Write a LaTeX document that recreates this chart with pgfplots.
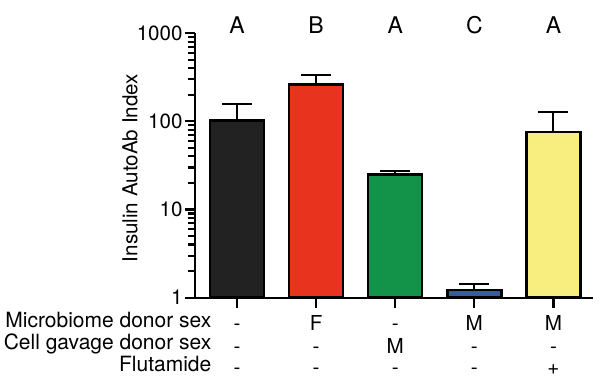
\documentclass[border=0pt]{standalone}
\usepackage{fontspec}
\setmainfont{TeX Gyre Heros}
\usepackage{pgfplots}
\pgfplotsset{compat=1.18}
\definecolor{cblack}{HTML}{222222}
\definecolor{cred}{HTML}{E8341F}
\definecolor{cgreen}{HTML}{13924A}
\definecolor{cblue}{HTML}{3A5BA0}
\definecolor{cyellow}{HTML}{F8EE80}
\tikzset{lbl/.style={anchor=base, font=\fontsize{11.5}{13}\selectfont},
  rowlbl/.style={anchor=base east, inner sep=0pt, font=\fontsize{10.5}{12}\selectfont}}
\begin{document}
\fontsize{10.3}{12}\selectfont
\begin{tikzpicture}
\useasboundingbox (-97.5pt,-43.15pt) rectangle (202.5pt,148.85pt);
\begin{axis}[
  at={(0,0)}, anchor=south west,
  width=199pt, height=132.3pt, scale only axis,
  ymode=log, ymin=1, ymax=1000, xmin=-0.53, xmax=4.5,
  axis lines=left, axis line style={-, line width=1.1pt},
  ytick={1,10,100,1000}, yticklabels={1,10,100,1000},
  xtick={0,1,2,3,4}, xticklabels={},
  tick align=outside, major tick length=5pt, minor tick length=3.5pt,
  every tick/.style={black, line width=1.1pt},
  yticklabel style={inner sep=1pt},
  ylabel={Insulin AutoAb Index},
  ylabel style={at={(axis description cs:-0.163,0.49)}, anchor=center},
  ybar, bar width=27pt, bar shift=0pt,
  clip=false,
  error bars/y dir=plus, error bars/y explicit,
  error bars/error bar style={line width=1pt, black},
  error bars/error mark options={line width=1pt, black, mark size=7.5pt, rotate=90},
]
\addplot[fill=cblack, draw=black, line width=1.3pt] coordinates {(0,102) +- (0,56)};
\addplot[fill=cred, draw=black, line width=1.3pt] coordinates {(1,261) +- (0,78)};
\addplot[fill=cgreen, draw=black, line width=1.3pt] coordinates {(2,24.8) +- (0,2.7)};
\addplot[fill=cblue, draw=black, line width=1.3pt] coordinates {(3,1.22) +- (0,0.2)};
\addplot[fill=cyellow, draw=black, line width=1.3pt] coordinates {(4,75.8) +- (0,50)};

\node[lbl] at (axis cs:0,1000) {A};
\node[lbl] at (axis cs:1,1000) {B};
\node[lbl] at (axis cs:2,1000) {A};
\node[lbl] at (axis cs:3,1000) {C};
\node[lbl] at (axis cs:4,1000) {A};

\node[rowlbl] at ([xshift=8.35pt,yshift=-14.8pt]rel axis cs:0,0) {Microbiome donor sex};
\node[rowlbl] at ([xshift=8.35pt,yshift=-26.15pt]rel axis cs:0,0) {Cell gavage donor sex};
\node[rowlbl] at ([xshift=8.35pt,yshift=-37pt]rel axis cs:0,0) {Flutamide};

\node[anchor=base] at ([yshift=-16.6pt]axis cs:0,1) {-};
\node[anchor=base] at ([yshift=-27.8pt]axis cs:0,1) {-};
\node[anchor=base] at ([yshift=-38.6pt]axis cs:0,1) {-};
\node[anchor=base] at ([yshift=-16.6pt]axis cs:1,1) {F};
\node[anchor=base] at ([yshift=-27.8pt]axis cs:1,1) {-};
\node[anchor=base] at ([yshift=-38.6pt]axis cs:1,1) {-};
\node[anchor=base] at ([yshift=-16.6pt]axis cs:2,1) {-};
\node[anchor=base] at ([yshift=-27.8pt]axis cs:2,1) {M};
\node[anchor=base] at ([yshift=-38.6pt]axis cs:2,1) {-};
\node[anchor=base] at ([yshift=-16.6pt]axis cs:3,1) {M};
\node[anchor=base] at ([yshift=-27.8pt]axis cs:3,1) {-};
\node[anchor=base] at ([yshift=-38.6pt]axis cs:3,1) {-};
\node[anchor=base] at ([yshift=-16.6pt]axis cs:4,1) {M};
\node[anchor=base] at ([yshift=-27.8pt]axis cs:4,1) {-};
\node[anchor=base] at ([yshift=-38.6pt]axis cs:4,1) {+};
\end{axis}
\end{tikzpicture}
\end{document}
